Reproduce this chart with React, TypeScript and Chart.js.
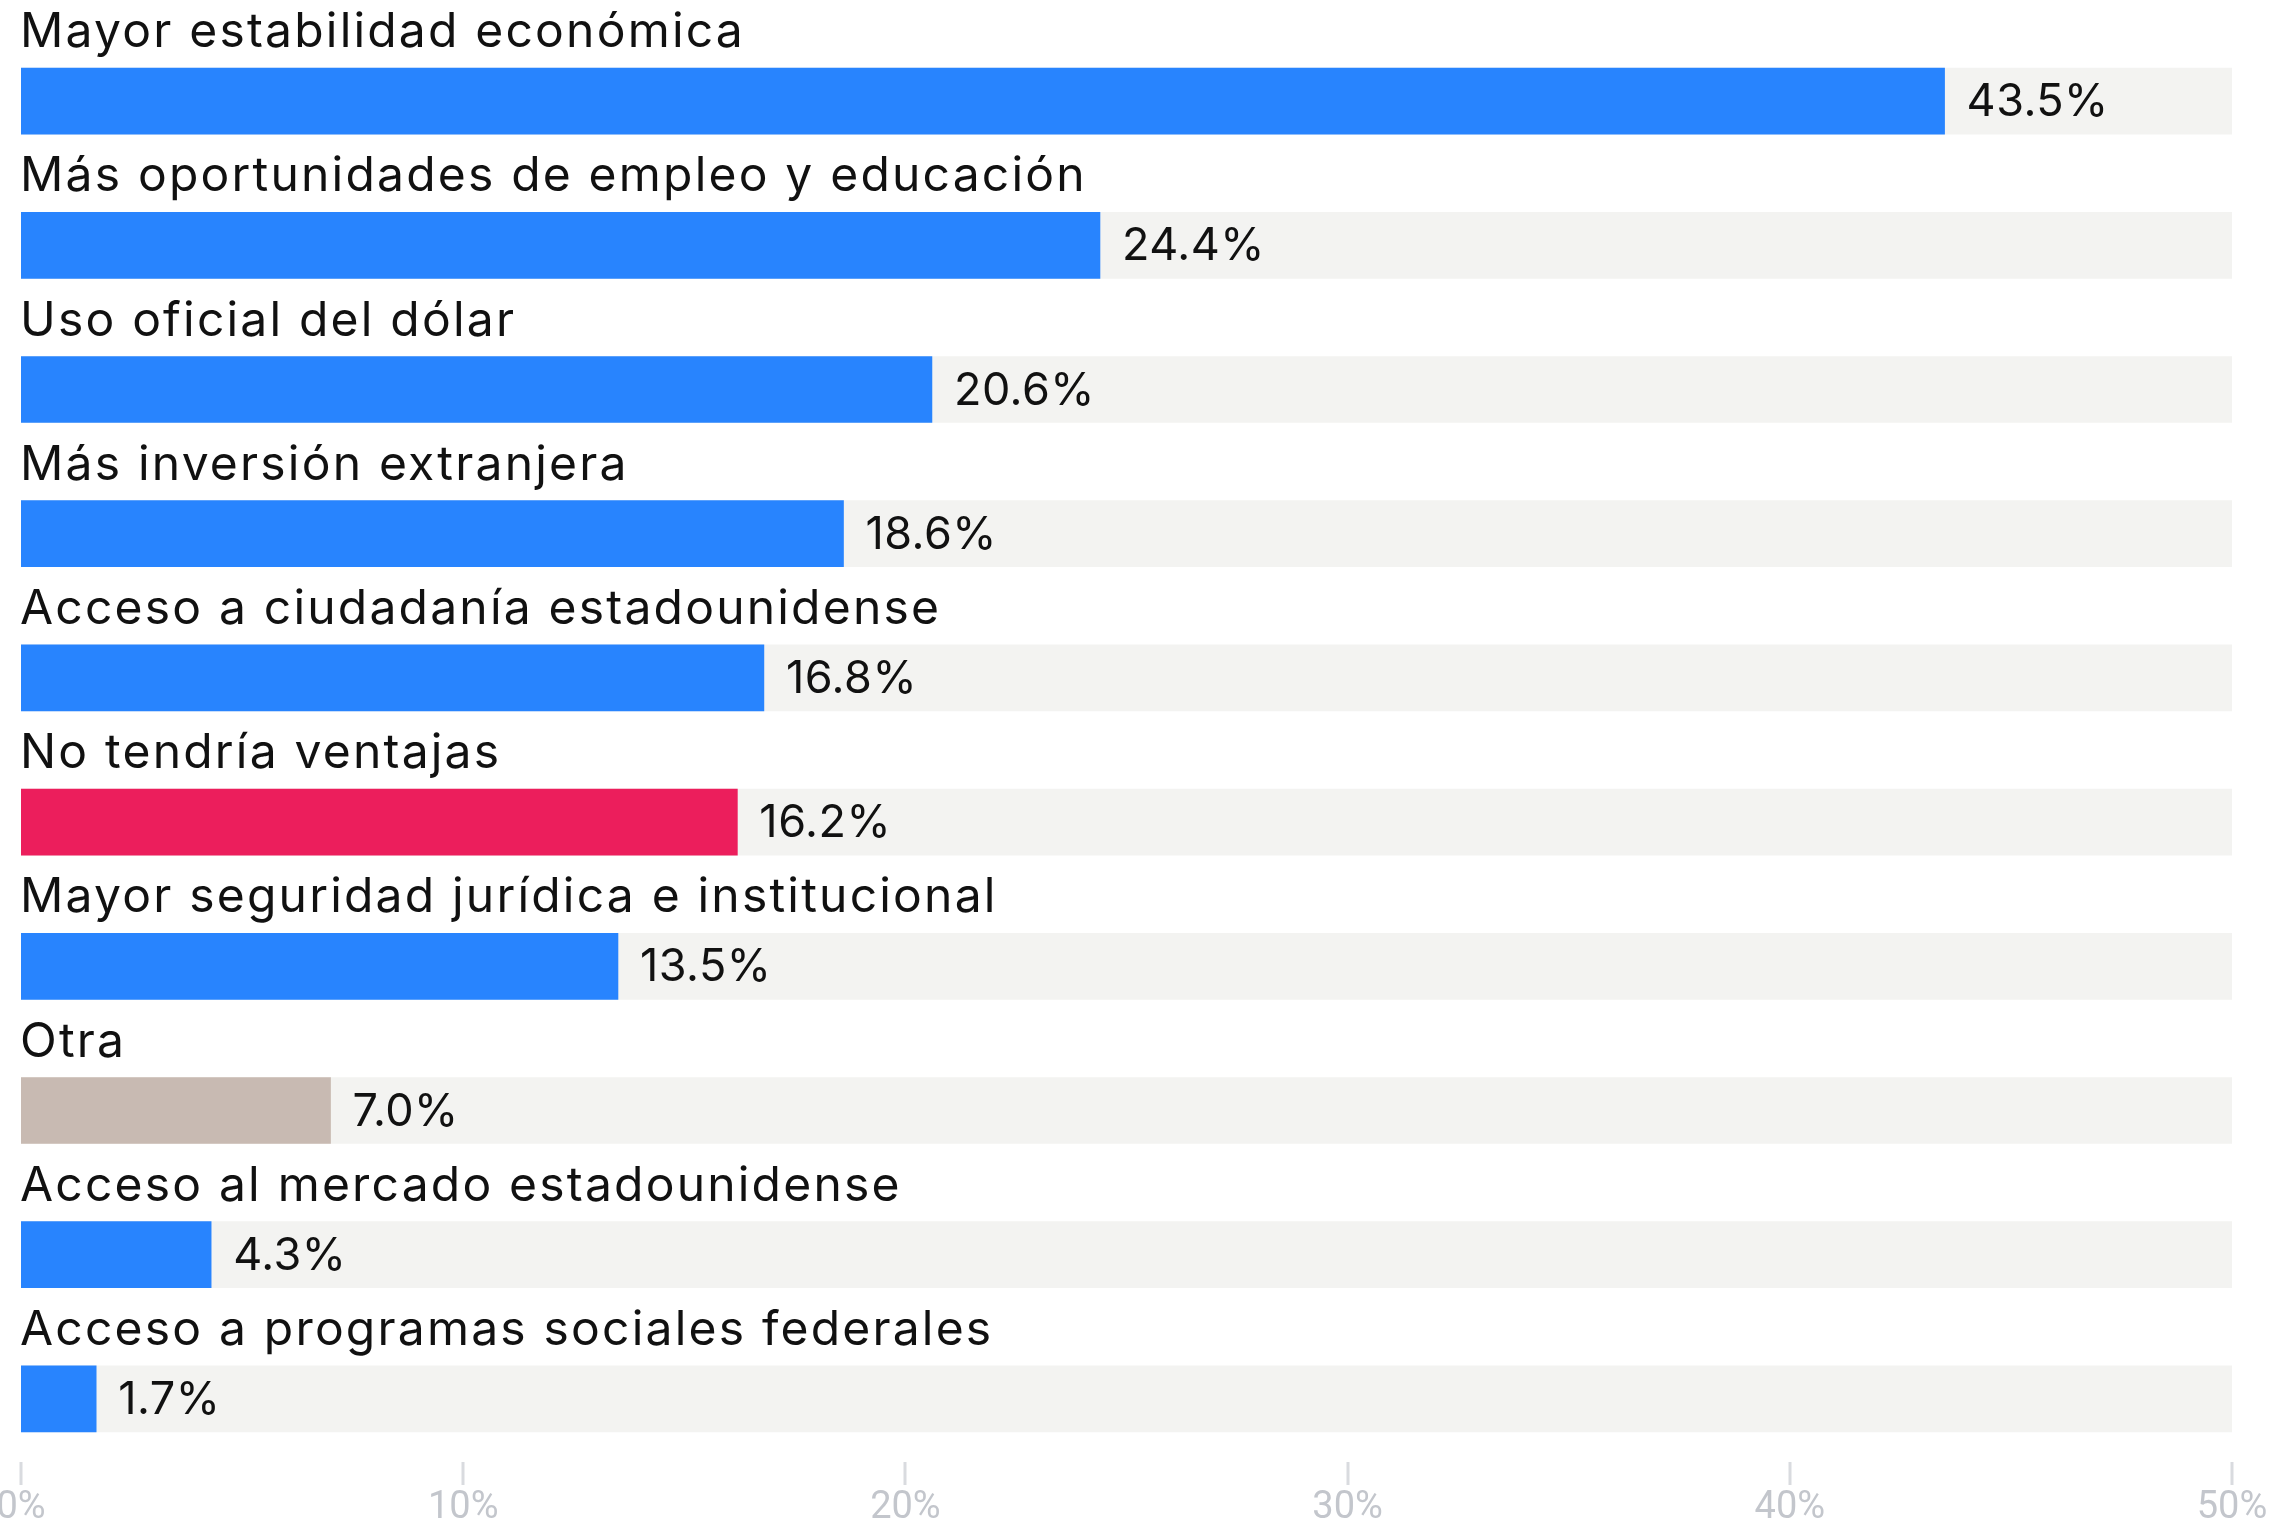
import React, { useEffect, useRef } from "react";
import { Chart, registerables } from "chart.js";

Chart.register(...registerables);

const categories = [
  "Mayor estabilidad económica",
  "Más oportunidades de empleo y educación",
  "Uso oficial del dólar",
  "Más inversión extranjera",
  "Acceso a ciudadanía estadounidense",
  "No tendría ventajas",
  "Mayor seguridad jurídica e institucional",
  "Otra",
  "Acceso al mercado estadounidense",
  "Acceso a programas sociales federales",
];

const values = [43.5, 24.4, 20.6, 18.6, 16.8, 16.2, 13.5, 7.0, 4.3, 1.7];

const barColors = [
  "#2884fe",
  "#2884fe",
  "#2884fe",
  "#2884fe",
  "#2884fe",
  "#ec1e5c",
  "#2884fe",
  "#c8bab2",
  "#2884fe",
  "#2884fe",
];

const trackValues = [50, 50, 50, 50, 50, 50, 50, 50, 50, 50];

const xTicks = [0, 10, 20, 30, 40, 50];

const LABEL_FONT = '48px Inter, "Noto Sans", sans-serif';
const VALUE_FONT = '45px Inter, "Noto Sans", sans-serif';

const labelsPlugin = {
  id: "barLabels",
  afterDatasetsDraw(chart: any) {
    const ctx = chart.ctx;
    const meta = chart.getDatasetMeta(0);
    const area = chart.chartArea;
    ctx.save();
    ctx.fillStyle = "#111111";
    ctx.textAlign = "left";
    ctx.textBaseline = "alphabetic";
    meta.data.forEach((bar: any, i: number) => {
      const half = bar.height / 2;
      ctx.font = LABEL_FONT;
      (ctx as any).letterSpacing = "2.2px";
      ctx.fillText(categories[i], area.left - 1, bar.y - half - 21);
      ctx.font = VALUE_FONT;
      (ctx as any).letterSpacing = "0.5px";
      const v = values[i].toFixed(1) + "%";
      ctx.fillText(v, bar.x + 22, bar.y + 15);
    });
    (ctx as any).letterSpacing = "0px";
    ctx.restore();
  },
  afterDraw(chart: any) {
    const ctx = chart.ctx;
    const xs = chart.scales.x;
    const area = chart.chartArea;
    ctx.save();
    ctx.strokeStyle = "#d9dbdf";
    ctx.lineWidth = 3;
    xTicks.forEach((t) => {
      const px = Math.round(xs.getPixelForValue(t));
      ctx.beginPath();
      ctx.moveTo(px, area.bottom - 9);
      ctx.lineTo(px, area.bottom + 14);
      ctx.stroke();
    });
    ctx.restore();
  },
};

export default function App() {
  const ref = useRef<HTMLCanvasElement | null>(null);

  useEffect(() => {
    document.body.style.margin = "0";
    const canvas = ref.current;
    if (!canvas) return;
    const chart = new Chart(canvas, {
      type: "bar",
      data: {
        labels: categories,
        datasets: [
          {
            label: "Porcentaje",
            data: values,
            backgroundColor: barColors,
            barThickness: 66,
            grouped: false,
            order: 0,
            borderWidth: 0,
          },
          {
            label: "Fondo",
            data: trackValues,
            backgroundColor: "#f3f3f1",
            barThickness: 66,
            grouped: false,
            order: 1,
            borderWidth: 0,
          },
        ],
      },
      options: {
        indexAxis: "y",
        responsive: false,
        animation: false,
        devicePixelRatio: 1,
        layout: { padding: { left: 21, right: 43, top: 29, bottom: 0 } },
        plugins: {
          legend: { display: false },
          tooltip: { enabled: false },
        },
        scales: {
          y: {
            display: false,
            offset: true,
          },
          x: {
            type: "linear",
            min: 0,
            max: 50,
            border: { display: false },
            grid: { display: false, drawTicks: false },
            afterFit: (scale: any) => {
              scale.paddingLeft = 0;
              scale.paddingRight = 0;
              scale.height = 53;
            },
            afterBuildTicks: (scale: any) => {
              scale.ticks = xTicks.map((v) => ({ value: v }));
            },
            ticks: {
              padding: 18,
              color: "#c3c6cc",
              font: { family: "Roboto, sans-serif", size: 38, lineHeight: 1.0 },
              callback: (v: any) => v + "%",
            },
          },
        },
      },
      plugins: [labelsPlugin],
    });
    return () => chart.destroy();
  }, []);

  return (
    <div style={{ position: "absolute", left: 0, top: 0, width: 2275, height: 1524, background: "#ffffff" }}>
      <canvas ref={ref} width={2275} height={1524} style={{ width: 2275, height: 1524, display: "block" }} />
    </div>
  );
}
